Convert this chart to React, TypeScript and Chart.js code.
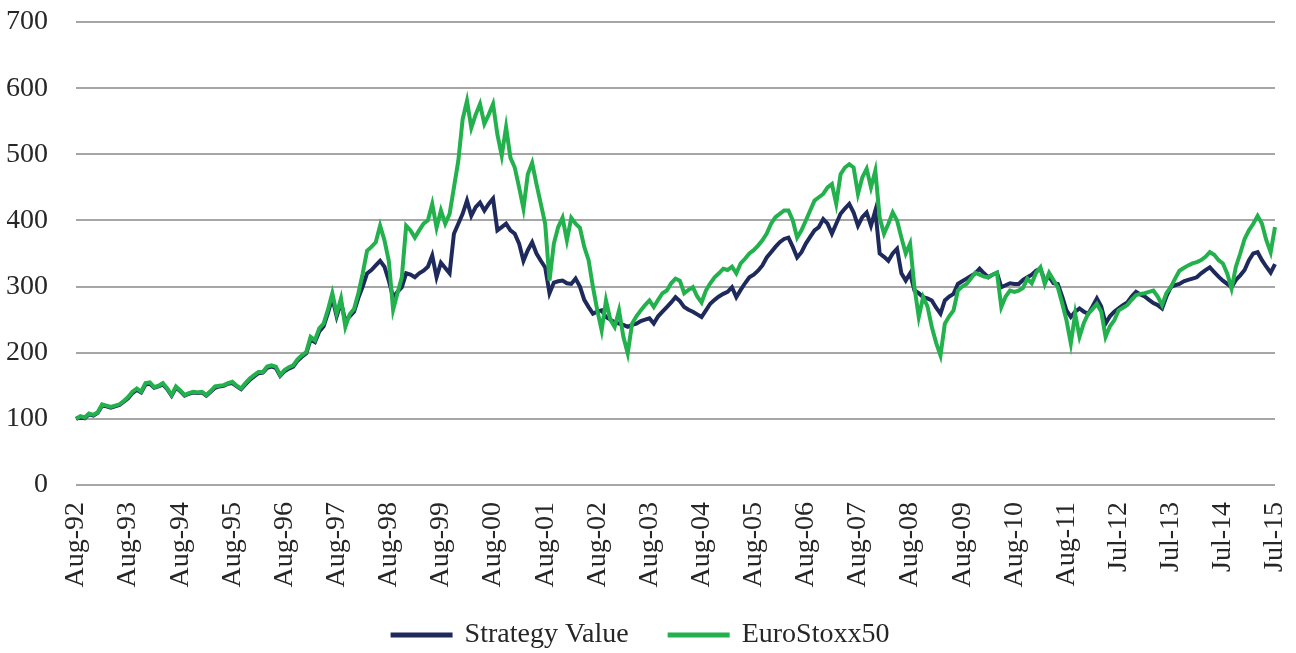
import React, { useEffect, useRef } from "react";
import { Chart, registerables } from "chart.js";

Chart.register(...registerables);

// Yearly tick labels (one every 12 monthly points)
const tickLabels = [
  "Aug-92", "Aug-93", "Aug-94", "Aug-95", "Aug-96", "Aug-97", "Aug-98", "Aug-99",
  "Aug-00", "Aug-01", "Aug-02", "Aug-03", "Aug-04", "Aug-05", "Aug-06", "Aug-07",
  "Aug-08", "Aug-09", "Aug-10", "Aug-11", "Jul-12", "Jul-13", "Jul-14", "Jul-15",
];

const seriesNames = ["Strategy Value", "EuroStoxx50"];

const strategyValue = [
  100, 103, 101, 107, 105, 109, 120, 119, 117, 119, 121, 126,
  131, 139, 144, 140, 152, 153, 147, 149, 152, 145, 135, 147,
  142, 135, 138, 140, 139, 140, 135, 141, 147, 149, 150, 153,
  154, 149, 145, 152, 159, 164, 169, 170, 177, 179, 177, 165,
  172, 176, 179, 188, 194, 199, 220, 216, 232, 240, 260, 283,
  255, 276, 248, 255, 262, 283, 300, 320, 325, 332, 339, 330,
  309, 284, 292, 299, 320, 318, 314, 320, 324, 330, 347, 314,
  336, 328, 320, 380, 395, 410, 430, 407, 420, 427, 415, 425,
  433, 385, 390, 395, 385, 380, 365, 339, 355, 367, 350, 339,
  329, 290, 306, 308, 309, 305, 304, 312, 300, 280, 269, 259,
  262, 264, 254, 250, 246, 244, 242, 239, 242, 244, 248, 250,
  252, 244, 255, 262, 269, 276, 284, 278, 269, 265, 262, 258,
  254, 264, 274, 280, 285, 289, 292, 299, 284, 295, 305, 314,
  318, 324, 332, 344, 352, 360, 367, 372, 374, 360, 344, 352,
  365, 375, 385, 390, 402, 395, 380, 395, 410, 418, 425, 412,
  392, 405, 412, 392, 415, 350, 345, 339, 350, 357, 320, 309,
  320, 294, 290, 284, 282, 279, 268, 259, 279, 285, 289, 304,
  308, 312, 316, 320, 327, 320, 314, 318, 321, 299, 302, 305,
  304, 304, 310, 314, 318, 324, 327, 309, 315, 305, 304, 285,
  264, 254, 262, 267, 262, 259, 270, 282, 270, 244, 255, 262,
  267, 272, 276, 285, 292, 288, 285, 280, 275, 272, 267, 285,
  299, 302, 304, 308, 310, 312, 314, 320, 325, 329, 322, 315,
  309, 304, 299, 310, 317, 325, 340, 350, 352, 340, 330, 321,
  334,
];

const euroStoxx50 = [
  100, 104, 102, 108, 106, 110, 122, 120, 118, 120, 122, 127,
  133, 141, 146, 141, 154, 155, 148, 150, 154, 146, 136, 149,
  143, 136, 139, 141, 140, 141, 136, 142, 149, 150, 151, 154,
  156, 150, 146, 154, 161, 166, 171, 171, 179, 181, 179, 166,
  174, 178, 181, 190, 196, 201, 224, 219, 237, 244, 265, 290,
  259, 282, 239, 258, 266, 290, 320, 354, 360, 367, 392, 370,
  339, 265, 290, 314, 392, 385, 374, 385, 395, 400, 425, 389,
  415, 395, 410, 450, 490, 553, 581, 540, 560, 576, 546, 560,
  576, 530, 498, 541, 495, 480, 450, 418, 470, 487, 455, 425,
  395, 309, 365, 390, 404, 370, 404, 395, 389, 360, 340, 299,
  264, 234, 279, 250, 239, 264, 224, 199, 244, 255, 264, 272,
  279, 269, 280, 290, 294, 305, 312, 309, 290, 295, 299, 285,
  276, 294, 305, 314, 320, 327, 325, 330, 320, 335, 342, 350,
  355, 362, 370, 380, 395, 405, 410, 415, 415, 400, 374, 385,
  400, 415, 430, 435, 440, 450, 455, 425, 470, 480, 485, 480,
  440, 465, 478, 450, 475, 404, 380, 395, 412, 400, 374, 350,
  365, 299, 254, 284, 270, 239, 215, 196, 244, 255, 264, 294,
  300, 304, 312, 321, 318, 315, 314, 318, 321, 269, 285, 294,
  292, 294, 298, 312, 305, 321, 329, 304, 321, 310, 299, 275,
  249, 214, 259, 224, 245, 259, 266, 274, 262, 224, 240, 249,
  264, 268, 272, 280, 287, 289, 290, 292, 294, 285, 272, 290,
  299, 312, 324, 328, 332, 335, 337, 340, 345, 352, 348, 340,
  335, 320, 297, 330, 350, 372, 385, 395, 407, 395, 370, 352,
  390,
];

const categories = strategyValue.map((_, i) =>
  i % 12 === 0 && tickLabels[i / 12] ? tickLabels[i / 12] : ""
);

const FONT = "'Liberation Serif', 'Times New Roman', serif";
const TEXT = "#262626";

// Pull the legend a little closer to the rotated axis labels
const legendShift = {
  id: "legendShift",
  afterLayout(chart: any) {
    const lg = chart.legend;
    if (lg) {
      lg.top -= 8;
      lg.bottom -= 8;
    }
  },
};

export default function App() {
  const ref = useRef<HTMLCanvasElement | null>(null);

  useEffect(() => {
    if (!ref.current) return;
    const chart = new Chart(ref.current, {
      type: "line",
      data: {
        labels: categories,
        datasets: [
          {
            label: seriesNames[0],
            data: strategyValue,
            borderColor: "#1F2A5C",
            backgroundColor: "#1F2A5C",
            borderWidth: 4,
            pointRadius: 0,
            tension: 0,
            order: 1,
          },
          {
            label: seriesNames[1],
            data: euroStoxx50,
            borderColor: "#22B14C",
            backgroundColor: "#22B14C",
            borderWidth: 4,
            pointRadius: 0,
            tension: 0,
            order: 0,
          },
        ],
      },
      plugins: [legendShift],
      options: {
        animation: false,
        responsive: true,
        maintainAspectRatio: false,
        layout: { padding: { left: 7, right: 21, top: 22, bottom: 0 } },
        plugins: {
          tooltip: { enabled: false },
          legend: {
            position: "bottom",
            labels: {
              boxWidth: 58,
              boxHeight: 1,
              padding: 41,
              color: TEXT,
              font: { family: FONT, size: 28 },
              sort: (a: any, b: any) => a.datasetIndex - b.datasetIndex,
            },
          },
        },
        scales: {
          x: {
            type: "category",
            grid: { display: false, drawTicks: false },
            border: { display: false },
            ticks: {
              autoSkip: false,
              maxRotation: 90,
              minRotation: 90,
              padding: 17,
              color: TEXT,
              font: { family: FONT, size: 28 },
            },
            afterFit: (scale: any) => {
              scale.height = 103;
              scale.paddingLeft = 0;
              scale.paddingRight = 0;
            },
          },
          y: {
            min: 0,
            max: 700,
            grid: { color: "#A6A6A6", lineWidth: 2, drawTicks: false },
            border: { display: false },
            ticks: {
              stepSize: 100,
              padding: 28,
              color: TEXT,
              font: { family: FONT, size: 28 },
            },
            afterFit: (scale: any) => {
              scale.width = 69;
              scale.paddingTop = 0;
              scale.paddingBottom = 0;
            },
          },
        },
      },
    });
    return () => chart.destroy();
  }, []);

  return (
    <div style={{ position: "absolute", left: 0, top: 0, width: 1296, height: 653, overflow: "hidden", background: "#fff" }}>
      <div style={{ position: "absolute", left: 0, top: 0, width: 1296, height: 667 }}>
        <canvas ref={ref} />
      </div>
    </div>
  );
}
